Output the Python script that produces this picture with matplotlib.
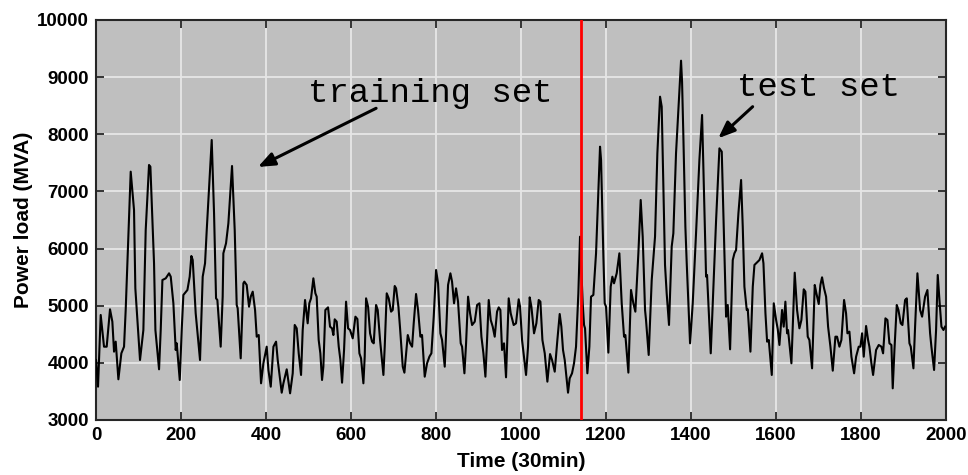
import matplotlib
matplotlib.use("Agg")
import matplotlib.pyplot as plt

# samples (index in 30-min steps, load in MVA)
t_idx = [
    0, 4.7, 11, 18.8, 25.1, 32.9, 38.4, 42.4, 46.3, 52.6, 59.6, 65.9, 69.8, 81.6, 89.4, 92.5,
    103.5, 111.4, 116.9, 124.7, 127.9, 136.5, 139.7, 148.3, 152.2, 156.2, 164, 171.8, 175.8,
    182, 187.5, 189.9, 197, 201.6, 205.5, 215, 220.4, 224.3, 227.5, 234.5, 244.7,
    251, 256.5, 260.5, 272.2, 277.7, 282.4, 285.5, 293.3, 298, 299.6, 305.9, 311.4, 320,
    326.3, 331, 333.3, 340.4, 346.7, 349, 354.5, 360, 364, 368.7, 374.2, 378.1, 382.8,
    388.3, 393.8, 401.6, 405.6, 411.1, 417.4, 423.6, 427.5, 436.9, 440.9, 448.7, 456.6,
    462.8, 467.5, 472.2, 476.9, 482.4, 486.3, 491.8,
    498, 501.9, 505.9, 511.4, 516.1, 519.2, 523.9, 527.8, 531.8, 534.9, 539.6, 545.9,
    550.6, 555.3, 558.5, 561.6, 566.3, 571.1, 575, 578.9, 583.6, 588.3, 593, 597.7, 604,
    610.3, 615, 619.7, 623.6, 629.1, 632.2, 635.4, 640.1, 644.8, 649.5, 653.4, 658.9,
    662.8, 668.3, 676.2, 679.3, 684, 688.7, 694.2, 698.1, 702.8, 706, 711.5, 715.4, 717.8,
    721.7, 725.6, 729.6, 733.5, 739, 743.7,
    747.5, 753, 757.7, 763.2, 767.1, 773.4, 778.9, 784.4, 789.1, 794.6, 800.1, 804.8,
    810.3, 814.2, 820.5, 825.2, 828.3, 833.8, 837.7, 842.4, 847.1, 851.8, 858.1, 861.3,
    866.8, 870.7, 875.4, 880.1, 884.8, 891.1, 896.6, 902.1, 906.8, 911.5, 916.2, 920.1,
    924, 928.7, 933.4, 938.1, 943.6, 947.5, 951.4, 955.3, 960, 964.7, 971, 975.7, 982.7,
    988.2, 994.5,
    997.7, 1002.4, 1005.5, 1011.8, 1016.5, 1020.4, 1024.4, 1030.6, 1036.1, 1041.6, 1045.6,
    1050.3, 1055.8, 1062, 1068.3, 1073, 1079.3, 1085.5, 1091, 1094.9, 1098.8, 1102.8,
    1110.6, 1114.5, 1120, 1124.7,
    1129.4, 1134.9, 1138.8, 1145.1, 1148.3, 1150.6, 1156.1, 1160.8, 1164.7, 1170.2, 1176.5,
    1185.9, 1188.3, 1193.8, 1196.9, 1200, 1205.5, 1211, 1214.9, 1218.8, 1225.1, 1231.4,
    1236.9, 1242.4, 1245.5, 1252.6, 1258.8, 1264.3, 1269, 1276.1, 1281.6, 1286.3, 1291.8,
    1294.1, 1300.4, 1307.5, 1315.3, 1320.8, 1327.1, 1331, 1338.8, 1342.7, 1348.2, 1354.5,
    1358.4, 1364.7,
    1376.5, 1378.9, 1382, 1386.7, 1389.9, 1397.7, 1404, 1411.8, 1419.7, 1426, 1430.7,
    1435.4, 1437.7, 1446.4, 1452.7, 1459, 1466.8, 1472.3, 1478.6, 1482.5, 1486.4, 1491.9,
    1498.2, 1502.1, 1506, 1511.5, 1517.8, 1521.7, 1525.6, 1531.1, 1533.5, 1539.8, 1545.3,
    1549.2, 1557, 1561, 1567.2, 1570.4, 1575.1, 1579, 1582.9, 1590, 1594.7, 1600.2, 1604.1,
    1608,
    1614.2, 1618.1, 1622, 1626, 1628.3, 1636.2, 1644, 1649.5, 1655, 1659.7, 1665.2, 1669.1,
    1674.6, 1678.5, 1684.8, 1691.1, 1695, 1700.5, 1704.4, 1708.3, 1713, 1717.8, 1722.5,
    1728, 1733.5, 1739.7, 1743.6, 1749.1, 1753.8, 1760.1, 1764.8, 1768, 1772.7, 1777.4,
    1783.7, 1788.4, 1794.6, 1798.5, 1802.5, 1806.4, 1811.9, 1816.6, 1819.7, 1824.4, 1828.4,
    1835.4, 1841.7, 1848, 1851.9, 1857.4, 1862.1, 1866.8, 1871.5,
    1874.6, 1878.6, 1884.1, 1888, 1893.4, 1897.4, 1903.7, 1907.6, 1913.9, 1917, 1923.3,
    1927.2, 1932.7, 1939, 1943.7, 1950.7, 1956.2, 1962.5, 1965.6, 1971.9, 1976.6, 1980.5,
    1984.5, 1989.2, 1993.9, 1997.8,
]

load_mva = [
    4050, 3583, 4838, 4283, 4283, 4937, 4721, 4196, 4371, 3712, 4167, 4283, 4925, 7346, 6675, 5304,
    4050, 4575, 6325, 7463, 7433, 5742, 4575, 3887, 4575, 5450, 5479, 5567, 5508,
    5042, 4225, 4342, 3700, 4575, 5188, 5275, 5508, 5870, 5800, 4867, 4050,
    5508, 5742, 6325, 7900, 6617, 5129, 5100, 4283, 5158, 5917, 6092, 6442, 7445,
    6325, 5013, 4955, 4079, 5392, 5421, 5363, 4983, 5158, 5246, 4925, 4458, 4487,
    3642, 3992, 4283, 3875, 3583, 4283, 4371, 4050, 3478, 3642, 3887, 3467,
    3817, 4663, 4604, 4167, 3788, 4575, 5100,
    4692, 5042, 5129, 5479, 5217, 5158, 4400, 4167, 3700, 3933, 4925, 4971,
    4633, 4604, 4487, 4762, 4721, 4283, 4050, 3653, 4225, 5071, 4604, 4575, 4429,
    4808, 4767, 4167, 4079, 3642, 4108, 5129, 4983, 4517, 4371, 4342, 5013,
    4925, 4400, 3788, 4283, 5217, 5129, 4896, 4925, 5345, 5304, 4983, 4604, 4342,
    3933, 3828, 4167, 4487, 4342, 4283,
    4692, 5205, 4925, 4458, 4487, 3758, 3992, 4108, 4167, 4808, 5625, 5392,
    4517, 4400, 3933, 4808, 5363, 5567, 5421, 5042, 5304, 5071, 4342, 4283,
    3817, 4342, 5158, 4867, 4662, 4721, 5013, 5042, 4458, 4167, 3758, 4400,
    5100, 4750, 4633, 4458, 4896, 4971, 4925, 4225, 4342, 3747, 5129, 4867, 4662,
    4692, 5112,
    4983, 4400, 4196, 3788, 4283, 5146, 4983, 4517, 4692, 5100, 5071,
    4400, 4167, 3671, 4154, 4050, 3846, 4400, 4855, 4633, 4225, 4050,
    3478, 3729, 3817, 3992,
    4283, 5217, 6208, 5042, 4662, 4604, 3817, 4283, 5158, 5188, 5917,
    7783, 7550, 5858, 5042, 4983, 4179, 5333, 5508, 5392, 5567, 5917,
    5042, 4458, 4487, 3829, 5275, 5042, 4896, 5917, 6850, 6208, 4925,
    4750, 4138, 5450, 6208, 7667, 8658, 8483, 5713, 5217, 4663, 6033,
    6267, 7667,
    9288, 8921, 7958, 6383, 5742, 4342, 5042, 6267, 7550, 8338, 6908,
    5508, 5538, 4167, 5333, 6500, 7754, 7696, 5917, 4808, 5013, 4237,
    5800, 5917, 5975, 6617, 7200, 6383, 5333, 4925, 4938, 4196, 5333,
    5713, 5771, 5800, 5917, 5742, 4867, 4371, 4400, 3788, 5042, 4750, 4587,
    4313,
    4925, 4633, 5071, 4517, 4575, 3992, 5578, 4925, 4604, 4750, 5287, 5246,
    4458, 4400, 3904, 5363, 5217, 5030, 5363, 5497, 5304, 5158, 4633,
    4283, 3863, 4458, 4458, 4283, 4400, 5100, 4867, 4517, 4546, 4108,
    3817, 4108, 4283, 4283, 4517, 4108, 4645, 4400, 4283, 3992, 3788,
    4225, 4313, 4283, 4167, 4779, 4750, 4342, 4313,
    3554, 4225, 5013, 4925, 4692, 4662, 5100, 5129, 4342, 4283, 3904,
    4633, 5567, 4925, 4808, 5158, 5275, 4517, 4283, 3875, 4575, 5538,
    5100, 4633, 4575, 4633,
]

split_idx = 1140
x_ticks = list(range(0, 2001, 200))
y_ticks = list(range(3000, 10001, 1000))

plt.rcParams["font.family"] = ["Liberation Sans", "DejaVu Sans"]
plt.rcParams["font.weight"] = "bold"

fig = plt.figure(figsize=(9.68, 4.75), dpi=100)
ax = fig.add_axes([0.0992, 0.1158, 0.8781, 0.8421])
ax.set_facecolor("#bfbfbf")

ax.plot(t_idx, load_mva, color="black", linewidth=1.5, zorder=3)
ax.axvline(split_idx, color="red", linewidth=2.0, zorder=4)

ax.set_xlim(0, 2000)
ax.set_ylim(3000, 10000)
ax.set_xticks(x_ticks)
ax.set_yticks(y_ticks)
ax.grid(True, color="#e6e6e6", linewidth=1.3)
ax.set_axisbelow(True)

ax.tick_params(direction="in", length=6, width=1.3, top=True, right=True,
               labelsize=13.5, pad=5, color="#262626")
for lab in ax.get_xticklabels() + ax.get_yticklabels():
    lab.set_fontweight("bold")
for sp in ax.spines.values():
    sp.set_color("#262626")
    sp.set_linewidth(1.5)

ax.set_xlabel("Time (30min)", fontsize=15, fontweight="bold", labelpad=6)
ax.set_ylabel("Power load (MVA)", fontsize=15, fontweight="bold", labelpad=3)

mono = ["Liberation Mono", "DejaVu Sans Mono"]
ax.text(499, 8570, "training set", family=mono, fontweight="normal",
        fontsize=24.5, va="baseline", ha="left", zorder=5)
ax.text(1508, 8676, "test set", family=mono, fontweight="normal",
        fontsize=24.5, va="baseline", ha="left", zorder=5)

arrow = dict(arrowstyle="-|>,head_length=1.0,head_width=0.4", color="black",
             lw=2.2, shrinkA=0, shrinkB=0)
ax.annotate("", xy=(381, 7428), xytext=(659, 8455), arrowprops=arrow, zorder=5)
ax.annotate("", xy=(1464, 7930), xytext=(1545, 8483), arrowprops=arrow, zorder=5)

fig.savefig("out.png", dpi=100)
